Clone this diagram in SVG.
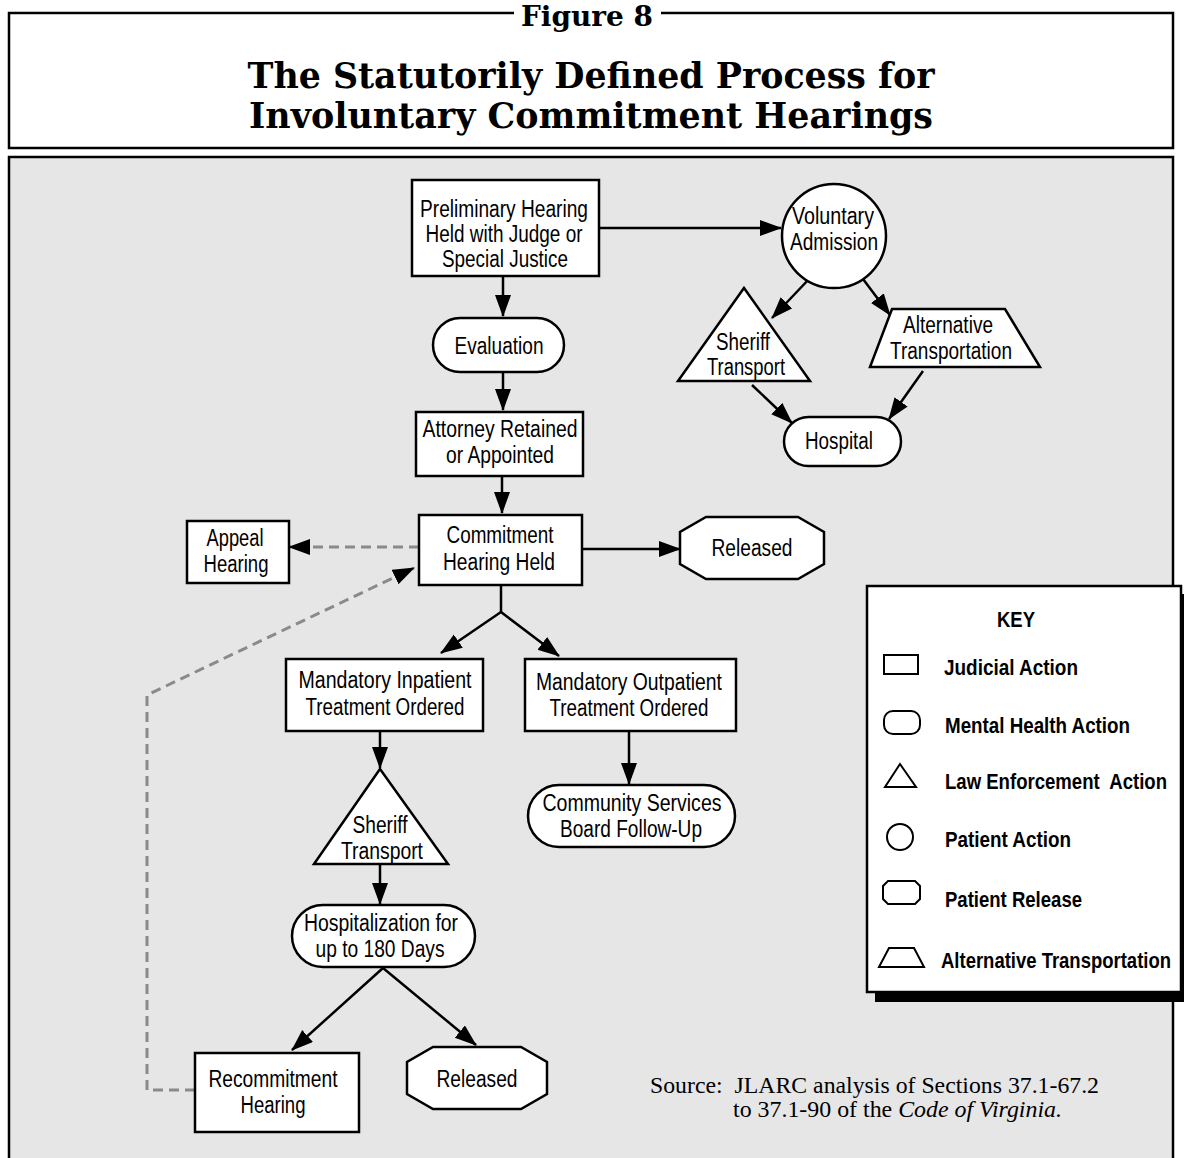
<svg xmlns="http://www.w3.org/2000/svg" width="1184" height="1158" viewBox="0 0 1184 1158">
<style>
.shape{fill:#fff;stroke:#000;stroke-width:2.5}
.t{font-family:"Liberation Sans",Arial,sans-serif;font-size:23px;text-anchor:middle;fill:#000}
.k{font-family:"Liberation Sans",Arial,sans-serif;font-size:22px;font-weight:bold;fill:#000}
.ttl{font-family:"DejaVu Serif","Liberation Serif",serif;font-weight:bold;text-anchor:middle;fill:#000}
.src{font-family:"Liberation Serif","Times New Roman",serif;font-size:23px;fill:#000}
.c{fill:none;stroke:#000;stroke-width:2.5}
.d{fill:none;stroke:#8a8a8a;stroke-width:3;stroke-dasharray:10 6}
</style>
<defs>
<marker id="ah" markerWidth="24" markerHeight="18" refX="21" refY="8" orient="auto" markerUnits="userSpaceOnUse">
<path d="M0,0 L22,8 L0,16 Z" fill="#000"/>
</marker>
</defs>

<g id="header">
<rect x="9" y="13" width="1164" height="135" fill="#fff" stroke="#000" stroke-width="2.5"/>
<rect x="514" y="3" width="147" height="22" fill="#fff"/>
<text class="ttl" x="587" y="26" font-size="27" textLength="132" lengthAdjust="spacingAndGlyphs">Figure 8</text>
<text class="ttl" x="591" y="88" font-size="35" textLength="687" lengthAdjust="spacingAndGlyphs">The Statutorily Defined Process for</text>
<text class="ttl" x="591" y="128" font-size="35" textLength="684" lengthAdjust="spacingAndGlyphs">Involuntary Commitment Hearings</text>
</g>

<rect id="panel" x="9" y="157" width="1164" height="1012" fill="#e6e6e6" stroke="#000" stroke-width="2.5"/>

<g id="connectors">
<line class="c" x1="503" y1="276" x2="503" y2="316" marker-end="url(#ah)"/>
<line class="c" x1="503" y1="372" x2="503" y2="410" marker-end="url(#ah)"/>
<line class="c" x1="502" y1="476" x2="502" y2="513" marker-end="url(#ah)"/>
<line class="c" x1="599" y1="228" x2="781" y2="228" marker-end="url(#ah)"/>
<line class="c" x1="810" y1="278" x2="772" y2="318" marker-end="url(#ah)"/>
<line class="c" x1="860" y1="275" x2="890" y2="315" marker-end="url(#ah)"/>
<line class="c" x1="752" y1="385" x2="792" y2="423" marker-end="url(#ah)"/>
<line class="c" x1="923" y1="371" x2="889" y2="419" marker-end="url(#ah)"/>
<line class="c" x1="582" y1="549" x2="680" y2="549" marker-end="url(#ah)"/>
<line class="d" x1="419" y1="547" x2="289" y2="547" marker-end="url(#ah)"/>
<line class="c" x1="501" y1="585" x2="501" y2="612"/>
<line class="c" x1="501" y1="612" x2="441" y2="653" marker-end="url(#ah)"/>
<line class="c" x1="501" y1="612" x2="559" y2="656" marker-end="url(#ah)"/>
<line class="c" x1="380" y1="731" x2="380" y2="768" marker-end="url(#ah)"/>
<line class="c" x1="629" y1="731" x2="629" y2="784" marker-end="url(#ah)"/>
<line class="c" x1="380" y1="864" x2="380" y2="904" marker-end="url(#ah)"/>
<line class="c" x1="383" y1="968" x2="292" y2="1050" marker-end="url(#ah)"/>
<line class="c" x1="383" y1="968" x2="476" y2="1045" marker-end="url(#ah)"/>
<path class="d" d="M195,1090 H147 V695 L414,568" marker-end="url(#ah)"/>
</g>

<g id="prelim">
<rect class="shape" x="412" y="180" width="187" height="96"/>
<text class="t" x="504" y="217" textLength="168" lengthAdjust="spacingAndGlyphs">Preliminary Hearing</text>
<text class="t" x="504" y="242" textLength="157" lengthAdjust="spacingAndGlyphs">Held with Judge or</text>
<text class="t" x="505" y="267" textLength="126" lengthAdjust="spacingAndGlyphs">Special Justice</text>
</g>

<g id="evaluation">
<rect class="shape" x="433" y="318" width="131" height="54" rx="27"/>
<text class="t" x="499" y="354" textLength="89" lengthAdjust="spacingAndGlyphs">Evaluation</text>
</g>

<g id="attorney">
<rect class="shape" x="416" y="412" width="167" height="64"/>
<text class="t" x="500" y="437" textLength="155" lengthAdjust="spacingAndGlyphs">Attorney Retained</text>
<text class="t" x="500" y="463" textLength="108" lengthAdjust="spacingAndGlyphs">or Appointed</text>
</g>

<g id="commitment">
<rect class="shape" x="419" y="515" width="163" height="70"/>
<text class="t" x="500" y="543" textLength="107" lengthAdjust="spacingAndGlyphs">Commitment</text>
<text class="t" x="499" y="570" textLength="112" lengthAdjust="spacingAndGlyphs">Hearing Held</text>
</g>

<g id="appeal">
<rect class="shape" x="187" y="521" width="102" height="62"/>
<text class="t" x="235" y="546" textLength="57" lengthAdjust="spacingAndGlyphs">Appeal</text>
<text class="t" x="236" y="572" textLength="65" lengthAdjust="spacingAndGlyphs">Hearing</text>
</g>

<g id="released1">
<polygon class="shape" points="706,517 798,517 824,532 824,564 798,579 706,579 680,564 680,532"/>
<text class="t" x="752" y="556" textLength="81" lengthAdjust="spacingAndGlyphs">Released</text>
</g>

<g id="voluntary">
<circle class="shape" cx="834" cy="236" r="52"/>
<text class="t" x="833" y="224" font-size="22" textLength="82" lengthAdjust="spacingAndGlyphs">Voluntary</text>
<text class="t" x="834" y="250" font-size="22" textLength="88" lengthAdjust="spacingAndGlyphs">Admission</text>
</g>

<g id="sheriff1">
<polygon class="shape" points="744,288 810,381 678,381"/>
<text class="t" x="743" y="350" textLength="54" lengthAdjust="spacingAndGlyphs">Sheriff</text>
<text class="t" x="746" y="375" textLength="78" lengthAdjust="spacingAndGlyphs">Transport</text>
</g>

<g id="alternative">
<polygon class="shape" points="892,309 1005,309 1040,367 870,367"/>
<text class="t" x="948" y="333" textLength="90" lengthAdjust="spacingAndGlyphs">Alternative</text>
<text class="t" x="951" y="359" textLength="122" lengthAdjust="spacingAndGlyphs">Transportation</text>
</g>

<g id="hospital">
<rect class="shape" x="784" y="417" width="117" height="49" rx="24.5"/>
<text class="t" x="839" y="449" textLength="68" lengthAdjust="spacingAndGlyphs">Hospital</text>
</g>

<g id="inpatient">
<rect class="shape" x="286" y="659" width="197" height="72"/>
<text class="t" x="385" y="688" textLength="173" lengthAdjust="spacingAndGlyphs">Mandatory Inpatient</text>
<text class="t" x="385" y="715" textLength="159" lengthAdjust="spacingAndGlyphs">Treatment Ordered</text>
</g>

<g id="outpatient">
<rect class="shape" x="525" y="659" width="211" height="72"/>
<text class="t" x="629" y="690" textLength="186" lengthAdjust="spacingAndGlyphs">Mandatory Outpatient</text>
<text class="t" x="629" y="716" textLength="159" lengthAdjust="spacingAndGlyphs">Treatment Ordered</text>
</g>

<g id="community">
<rect class="shape" x="528" y="785" width="207" height="62" rx="31"/>
<text class="t" x="632" y="811" textLength="179" lengthAdjust="spacingAndGlyphs">Community Services</text>
<text class="t" x="631" y="837" textLength="142" lengthAdjust="spacingAndGlyphs">Board Follow-Up</text>
</g>

<g id="sheriff2">
<polygon class="shape" points="380,769 448,864 314,864"/>
<text class="t" x="380" y="833" textLength="55" lengthAdjust="spacingAndGlyphs">Sheriff</text>
<text class="t" x="382" y="859" textLength="82" lengthAdjust="spacingAndGlyphs">Transport</text>
</g>

<g id="hospitalization">
<rect class="shape" x="292" y="905" width="183" height="62" rx="31"/>
<text class="t" x="381" y="931" textLength="154" lengthAdjust="spacingAndGlyphs">Hospitalization for</text>
<text class="t" x="380" y="957" textLength="129" lengthAdjust="spacingAndGlyphs">up to 180 Days</text>
</g>

<g id="recommitment">
<rect class="shape" x="195" y="1053" width="164" height="79"/>
<text class="t" x="273" y="1087" textLength="129" lengthAdjust="spacingAndGlyphs">Recommitment</text>
<text class="t" x="273" y="1113" textLength="65" lengthAdjust="spacingAndGlyphs">Hearing</text>
</g>

<g id="released2">
<polygon class="shape" points="433,1047 521,1047 547,1062 547,1094 521,1109 433,1109 407,1094 407,1062"/>
<text class="t" x="477" y="1087" textLength="81" lengthAdjust="spacingAndGlyphs">Released</text>
</g>

<g id="key">
<rect x="875" y="594" width="314" height="408" fill="#000"/>
<rect x="867" y="586" width="314" height="406" fill="#fff" stroke="#000" stroke-width="2.5"/>
<text class="k" x="1016" y="627" text-anchor="middle" textLength="38" lengthAdjust="spacingAndGlyphs">KEY</text>
<rect x="884" y="655" width="34" height="19" fill="#fff" stroke="#000" stroke-width="2"/>
<text class="k" x="944" y="675" textLength="134" lengthAdjust="spacingAndGlyphs">Judicial Action</text>
<rect x="884" y="711" width="36" height="23" rx="9" fill="#fff" stroke="#000" stroke-width="2"/>
<text class="k" x="945" y="733" textLength="185" lengthAdjust="spacingAndGlyphs">Mental Health Action</text>
<polygon points="900,764 916,787 885,787" fill="#fff" stroke="#000" stroke-width="2"/>
<text class="k" x="945" y="789" xml:space="preserve" textLength="222" lengthAdjust="spacingAndGlyphs">Law Enforcement  Action</text>
<circle cx="900" cy="837" r="13" fill="#fff" stroke="#000" stroke-width="2"/>
<text class="k" x="945" y="847" textLength="126" lengthAdjust="spacingAndGlyphs">Patient Action</text>
<polygon points="888,881 915,881 920,886 920,899 915,904 888,904 883,899 883,886" fill="#fff" stroke="#000" stroke-width="2"/>
<text class="k" x="945" y="907" textLength="137" lengthAdjust="spacingAndGlyphs">Patient Release</text>
<polygon points="889,948 914,948 924,967 879,967" fill="#fff" stroke="#000" stroke-width="2"/>
<text class="k" x="941" y="968" textLength="230" lengthAdjust="spacingAndGlyphs">Alternative Transportation</text>
</g>

<g id="source">
<text class="src" x="650" y="1093" xml:space="preserve" textLength="449" lengthAdjust="spacingAndGlyphs">Source:  JLARC analysis of Sections 37.1-67.2</text>
<text class="src" x="733" y="1117" textLength="329" lengthAdjust="spacingAndGlyphs">to 37.1-90 of the <tspan font-style="italic">Code of Virginia.</tspan></text>
</g>
</svg>
